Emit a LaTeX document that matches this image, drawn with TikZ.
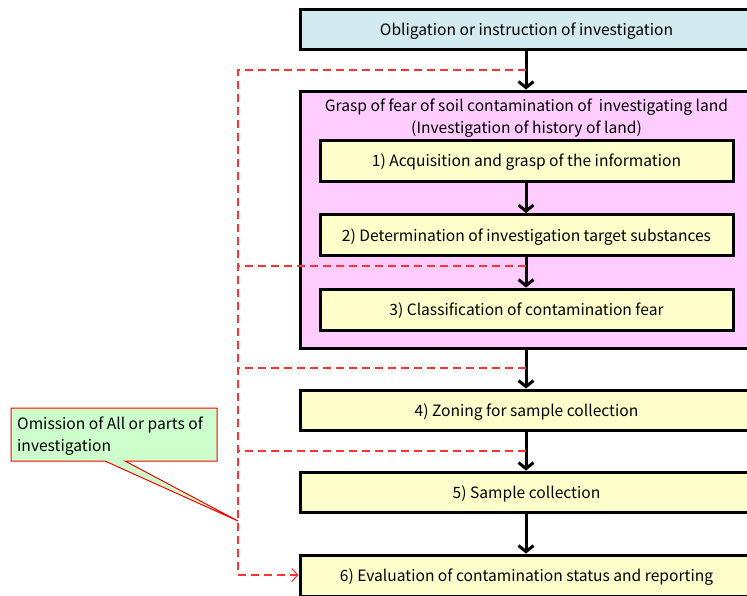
\documentclass[tikz,border=0pt]{standalone}
\usepackage{fontspec}
\setmainfont{Noto Sans CJK JP}
\usetikzlibrary{arrows.meta}
\definecolor{topblue}{HTML}{D2EAF0}
\definecolor{pinkbg}{HTML}{FFCCFF}
\definecolor{stepyellow}{HTML}{FFFFCC}
\definecolor{notegreen}{HTML}{CCFFCC}
\definecolor{dashred}{HTML}{FF3333}
\begin{document}
\begin{tikzpicture}[x=1pt,y=-1pt,
  txt/.style={font=\fontsize{15.6}{22}\selectfont},
  widebox/.style={draw=black, line width=3pt, minimum width=453pt,
    minimum height=40pt, inner sep=0pt, text depth=0pt, txt},
  innerbox/.style={draw=black, line width=3pt, fill=stepyellow,
    minimum width=413pt, minimum height=41pt, inner sep=0pt, text depth=0pt, txt},
  flow/.style={line width=3pt, -{Straight Barb[length=6pt,width=15pt]}},
  skip/.style={dashred, line width=1.1pt, dash pattern=on 8pt off 5pt},
  skiparrow/.style={skip, -{Straight Barb[length=6pt,width=13pt,line width=1.1pt]}}
]
\useasboundingbox (0,0) rectangle (747,595);
\clip (0,0) rectangle (747,595);

% main chain of steps
\node[widebox, fill=topblue] (top) at (526.5,29) {Obligation or instruction of investigation};
\node[widebox, fill=pinkbg, minimum height=257pt] (hist) at (526.5,219.5) {};
\node[txt, align=center, inner sep=0pt] (histtitle) at (526.5,118.5)
  {Grasp of fear of soil contamination of\ \ investigating land\\(Investigation of history of land)};
\node[innerbox] (s1) at (526.5,160.5) {1) Acquisition and grasp of the information};
\node[innerbox] (s2) at (526.5,235) {2) Determination of investigation target substances};
\node[innerbox] (s3) at (526.5,309.5) {3) Classification of contamination fear};
\node[widebox, fill=stepyellow] (s4) at (526.5,410) {4) Zoning for sample collection};
\node[widebox, fill=stepyellow] (s5) at (526.5,492) {5) Sample collection};
\node[widebox, fill=stepyellow, minimum height=41pt] (s6) at (526.5,575.5) {6) Evaluation of contamination status and reporting};

\draw[flow] (top.south -| 526,0) -- (hist.north -| 526,0);
\draw[flow] (s1.south -| 526,0) -- (s2.north -| 526,0);
\draw[flow] (s2.south -| 526,0) -- (s3.north -| 526,0);
\draw[flow] (hist.south -| 526,0) -- (s4.north -| 526,0);
\draw[flow] (s4.south -| 526,0) -- (s5.north -| 526,0);
\draw[flow] (s5.south -| 526,0) -- (s6.north -| 526,0);

% skip paths on the left
\coordinate (k0) at (526,70);
\coordinate (k1) at (526,266);
\coordinate (k2) at (526,368);
\coordinate (k3) at (526,451);
\coordinate (trunktop) at (238,70);
\coordinate (trunkend) at (238,575);
\draw[skip] (k0) -- (trunktop) -- (trunkend);
\draw[skip] (k1) -- (k1 -| trunktop);
\draw[skip] (k2) -- (k2 -| trunktop);
\draw[skip] (k3) -- (k3 -| trunktop);
\draw[skiparrow] (trunkend) -- (trunkend -| s6.west);

% callout
\coordinate (tip) at (238,521);
\draw[red, line width=1pt, fill=notegreen]
  (11,408) -- (217,408) -- (217,461) -- (125,461) -- (tip) -- (105,461) -- (11,461) -- cycle;
\node[txt, align=left, anchor=west, inner sep=0pt] (note) at (17,436)
  {Omission of All or parts of\\investigation};
\end{tikzpicture}
\end{document}
